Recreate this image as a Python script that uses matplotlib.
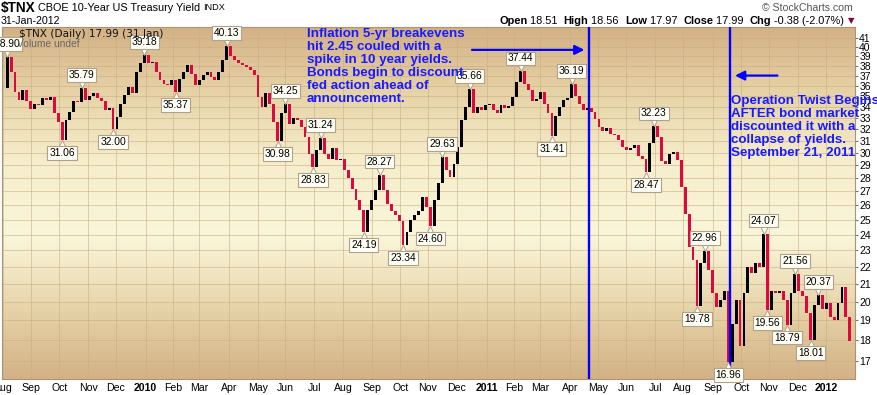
import numpy as np
import pandas as pd
import matplotlib
matplotlib.use("Agg")
import matplotlib.pyplot as plt
from matplotlib.colors import LinearSegmentedColormap
from matplotlib.ticker import NullLocator
from matplotlib.transforms import offset_copy, blended_transform_factory

plt.rcParams['font.family'] = ['Liberation Sans', 'DejaVu Sans']

# one bar every 3 sessions, starting at the first session on the chart
START = "2009-08-03"
STEP = 3

# $TNX closes (yield x10)
closes = [
    35.8, 38.9, 37.4, 35.4, 34.6, 35.6, 34.5, 33.8, 34.3, 34.2,
    34.8, 34.6, 34.9, 33.4, 32.6, 31.06, 32.8, 33.5, 34.5, 34.4,
    35.79, 34.6, 35.0, 35.3, 34.8, 34.5, 33.7, 33.9, 32.00, 33.1,
    34.3, 35.1, 35.9, 35.3, 37.4, 38.3, 39.18, 38.3, 38.4, 37.4,
    36.6, 36.2, 36.1, 36.6, 35.37, 36.7, 37.4, 38.1, 37.2, 36.1,
    36.6, 37.1, 37.4, 36.9, 36.6, 37.4, 38.6, 40.13, 39.0, 38.6,
    38.3, 38.1, 37.9, 37.6, 37.1, 34.9, 34.0, 35.3, 34.3, 32.6,
    30.98, 33.4, 34.25, 32.4, 33.0, 32.8, 32.2, 31.3, 29.9, 28.83,
    30.2, 31.24, 29.9, 29.5, 30.4, 29.4, 29.5, 28.6, 28.0, 27.2,
    26.4, 25.7, 24.19, 25.7, 26.4, 27.1, 28.27, 27.1, 26.1, 25.6,
    25.3, 24.9, 23.34, 24.2, 25.0, 25.3, 25.6, 26.6, 25.9, 24.60,
    26.4, 27.6, 29.63, 28.6, 28.1, 29.1, 30.5, 32.8, 34.0, 35.66,
    33.4, 34.0, 33.7, 34.2, 34.3, 33.7, 33.4, 34.2, 33.9, 34.1,
    34.9, 36.4, 37.44, 36.2, 35.6, 34.5, 34.7, 35.4, 34.3, 33.4,
    31.41, 33.2, 34.0, 34.6, 34.8, 36.19, 35.0, 34.3, 33.7, 33.9,
    33.5, 32.9, 32.2, 31.8, 32.1, 31.6, 31.5, 31.1, 30.5, 30.2,
    30.4, 30.6, 29.7, 29.5, 28.47, 30.8, 32.23, 31.3, 29.3, 29.1,
    29.9, 30.1, 29.4, 27.3, 25.4, 23.2, 22.4, 19.78, 22.2, 22.96,
    21.8, 20.5, 19.7, 20.1, 20.6, 16.96, 18.8, 20.1, 17.7, 20.5,
    22.0, 21.6, 22.2, 22.0, 24.07, 19.56, 20.6, 20.5, 20.6, 20.1,
    18.79, 20.5, 21.56, 20.6, 20.3, 19.4, 18.01, 19.8, 20.37, 19.6,
    19.9, 19.2, 19.0, 19.9, 20.8, 19.2, 17.99,
]

# bars carrying a labelled high / low
high_bars = [1, 20, 36, 57, 72, 81, 96, 112, 119, 132, 145, 166, 179, 194, 202, 208]
low_bars = [15, 28, 44, 70, 79, 92, 102, 109, 140, 164, 177, 185, 195, 200, 206]

event_dates = ["2011-04-21", "2011-09-20"]
y_ticks = list(range(17, 42))

note_left = ("Inflation 5-yr breakevens\nhit 2.45 couled with a\nspike in 10 year yields.\n"
             "Bonds begin to discount\nfed action ahead of\nannouncement.")
note_right = ("Operation Twist Begins\nAFTER bond market\ndiscounted it with a\n"
              "collapse of yields.\nSeptember 21, 2011")

W, H = 878, 395
fig = plt.figure(figsize=(W / 100, H / 100), dpi=100)
ax = fig.add_axes([2 / W, 1 - 379 / H, 853 / W, 352 / H])

sessions = pd.bdate_range(START, "2012-01-31")
pos = np.arange(len(closes)) * STEP
closes_a = np.array(closes)
opens = np.r_[closes_a[0], closes_a[:-1]]
cols = np.where(closes_a >= opens, '#000000', '#dc0a3c')

# background gradient tan -> cream -> tan
bg = LinearSegmentedColormap.from_list('bg', [
    (0.0, '#d3b286'), (0.18, '#e5d0a4'), (0.40, '#faf6da'),
    (0.62, '#f6eecb'), (0.82, '#e6d2a6'), (1.0, '#d3b185')])
grad = np.linspace(0, 1, 256).reshape(-1, 1)
ax.imshow(grad, extent=[0, 1, 0, 1], transform=ax.transAxes, aspect='auto',
          cmap=bg, origin='lower', zorder=0)

ax.set_yscale('log')
ax.bar(pos, closes_a - opens, bottom=opens, width=2.2, color=cols,
       linewidth=0, zorder=3)

ax.set_xlim(-1, 652)
ax.set_ylim(16.2, 42.25)

# month ticks at first session of each month
month_pos, month_lbl = [], []
for i, d in enumerate(sessions):
    if i == 0 or d.month != sessions[i - 1].month:
        month_pos.append(i)
        month_lbl.append(str(d.year) if d.month == 1 else d.strftime('%b'))
ax.set_xticks(month_pos)
ax.set_xticklabels(month_lbl)
for t in ax.get_xticklabels():
    if t.get_text().isdigit():
        t.set_fontweight('bold')
ax.tick_params(axis='x', length=0, pad=3, labelsize=7.6)

ax.yaxis.tick_right()
ax.set_yticks(y_ticks)
ax.set_yticklabels([str(v) for v in y_ticks])
ax.yaxis.set_minor_locator(NullLocator())
ax.tick_params(axis='y', length=2, pad=1, labelsize=7.5, color='#777777')

ax.grid(True, color='#c9ad82', lw=0.6, alpha=0.65, zorder=1)
ax.set_axisbelow(True)
for s in ax.spines.values():
    s.set_color('#a89478')
    s.set_linewidth(0.8)

# labelled highs and lows
box = dict(boxstyle='square,pad=0.18', fc='#fffff6', ec='#b0a08c', lw=0.8)
up_tri = offset_copy(ax.transData, fig=fig, x=0, y=4, units='dots')
dn_tri = offset_copy(ax.transData, fig=fig, x=0, y=-4, units='dots')
for k in high_bars:
    v = closes[k]
    ax.plot(pos[k], v, marker='v', ms=6, mfc='#fffff6', mec='#b0a08c', mew=0.7,
            transform=up_tri, zorder=6)
    a = ax.annotate(f"{v:.2f}", xy=(pos[k], v), xytext=(0, 8), textcoords='offset pixels',
                    ha='center', va='bottom', fontsize=7.4, bbox=box, zorder=6)
    a.set_clip_on(True)
for k in low_bars:
    v = closes[k]
    ax.plot(pos[k], v, marker='^', ms=6, mfc='#fffff6', mec='#b0a08c', mew=0.7,
            transform=dn_tri, zorder=6)
    a = ax.annotate(f"{v:.2f}", xy=(pos[k], v), xytext=(0, -8), textcoords='offset pixels',
                    ha='center', va='top', fontsize=7.4, bbox=box, zorder=6)
    a.set_clip_on(True)

# event lines and notes
blue = '#1a1aff'
ev_pos = [sessions.get_loc(pd.Timestamp(d)) for d in event_dates]
for p in ev_pos:
    ax.axvline(p, color='#0000ff', lw=1.7, zorder=5)

xb = blended_transform_factory(ax.transData, ax.transAxes)
ax.annotate('', xy=(ev_pos[0] - 1, 0.935), xycoords=xb,
            xytext=(-118, 0), textcoords='offset pixels',
            arrowprops=dict(arrowstyle='-|>', color='#0000ff', lw=1.6, mutation_scale=14))
ax.annotate('', xy=(ev_pos[1] + 2, 0.862), xycoords=xb,
            xytext=(48, 0), textcoords='offset pixels',
            arrowprops=dict(arrowstyle='-|>', color='#0000ff', lw=1.6, mutation_scale=14))

ax.text(0.3576, 0.997, note_left, transform=ax.transAxes, ha='left', va='top',
        fontsize=9.6, fontweight='bold', color=blue, linespacing=1.12, zorder=7)
ax.text(0.855, 0.808, note_right, transform=ax.transAxes, ha='left', va='top',
        fontsize=9.6, fontweight='bold', color=blue, linespacing=1.12, zorder=7,
        clip_on=False)

# legend lines inside the plot
ax.text(17 / 853, 1 - 7 / 352, "$TNX (Daily) 17.99 (31 Jan)", transform=ax.transAxes,
        ha='left', va='center', fontsize=7.6, color='#111111', family='DejaVu Sans', zorder=7)
ax.text(15 / 853, 1 - 17 / 352, "Volume undef", transform=ax.transAxes,
        ha='left', va='center', fontsize=7.4, color='#666666', zorder=7)

# header
def ftext(x, y, s, **kw):
    return fig.text(x / W, 1 - y / H, s, va='center', **kw)

ftext(1, 8, "$TNX", fontsize=9.8, fontweight='bold')
ftext(38, 8, "CBOE 10-Year US Treasury Yield", fontsize=7.8)
ftext(203, 8, "INDX", fontsize=6.6)
ftext(1, 21, "31-Jan-2012", fontsize=7.7)
ftext(853, 8, "\u00a9 StockCharts.com", fontsize=7.6, color='#555555', ha='right')

renderer = fig.canvas.get_renderer()
x = 499
parts = [("Open", 'bold'), (" 18.51  ", 'normal'), ("High", 'bold'), (" 18.56  ", 'normal'),
         ("Low", 'bold'), (" 17.97  ", 'normal'), ("Close", 'bold'), (" 17.99  ", 'normal'),
         ("Chg", 'bold'), (" -0.38 (-2.07%) ", 'normal')]
for s, wt in parts:
    t = ftext(x, 21, s, fontsize=7.9, fontweight=wt)
    x += t.get_window_extent(renderer).width
ftext(x, 21, "\u25bc", fontsize=6, color='#8b0030', family='DejaVu Sans')

fig.savefig("out.png", dpi=100)
